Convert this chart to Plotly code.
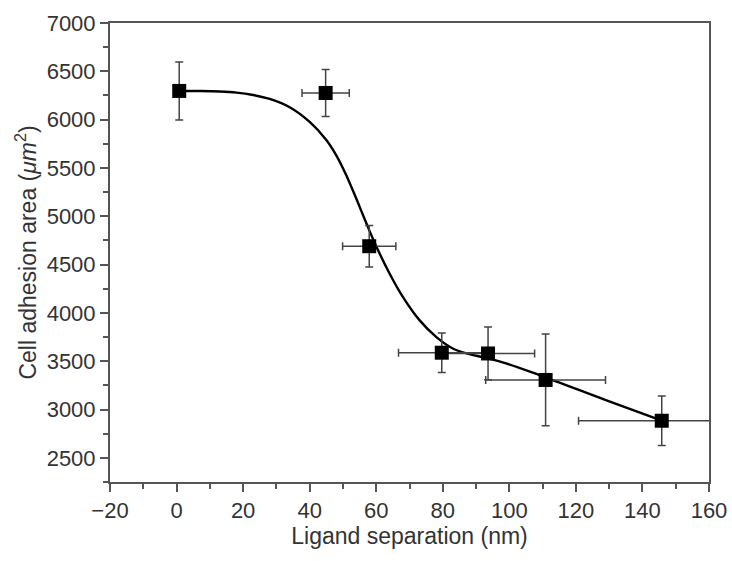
import plotly.graph_objects as go

# Measured data points
sep_nm = [0.8, 44.8, 57.9, 79.7, 93.6, 110.9, 145.8]
area_um2 = [6297, 6276, 4690, 3588, 3580, 3306, 2884]
area_err = [300, 243, 215, 205, 273, 475, 255]
sep_err = [0, 7.1, 8, 13, 14, 18, 25]

# Fitted curve
fit_x = [0.8, 7, 13, 18, 23, 28, 34, 40, 45, 48, 51, 54, 57, 60, 64, 68, 73, 78, 83, 88, 93, 99, 109, 129, 145.8]
fit_y = [6297, 6296, 6291, 6280, 6255, 6214, 6128, 5976, 5790, 5631, 5425, 5183, 4930, 4690, 4408, 4166,
         3925, 3752, 3632, 3573, 3535, 3478, 3357, 3098, 2884]

x_ticks = [-20, 0, 20, 40, 60, 80, 100, 120, 140, 160]
y_ticks = [2500, 3000, 3500, 4000, 4500, 5000, 5500, 6000, 6500, 7000]

font_family = "Liberation Sans, Arial, sans-serif"
axis_color = "#555555"
text_color = "#333333"

fig = go.Figure()

fig.add_trace(go.Scatter(
    x=fit_x, y=fit_y, mode="lines",
    line=dict(color="black", width=2.4, shape="spline", smoothing=1.0),
    hoverinfo="skip", showlegend=False,
))

fig.add_trace(go.Scatter(
    x=sep_nm, y=area_um2, mode="markers",
    marker=dict(symbol="square", size=14, color="black"),
    error_y=dict(type="data", array=area_err, visible=True, color="#444444", thickness=1.5, width=4),
    error_x=dict(type="data", array=sep_err, visible=True, color="#444444", thickness=1.5, width=4),
    showlegend=False,
))

fig.update_layout(
    width=732, height=561,
    margin=dict(l=110, r=23, t=23, b=79, autoexpand=False),
    paper_bgcolor="white", plot_bgcolor="white",
    font=dict(family=font_family, color=text_color, size=22),
    xaxis=dict(
        range=[-20, 160], tickmode="array", tickvals=x_ticks, automargin=False,
        ticks="outside", ticklen=8, tickwidth=2, tickcolor=axis_color,
        showline=True, linecolor=axis_color, linewidth=2, mirror=True,
        showgrid=False, zeroline=False,
        minor=dict(ticks="outside", ticklen=5, tickwidth=1.5, tickcolor=axis_color, dtick=10, tick0=-20),
        tickfont=dict(size=22, color=text_color),
        title=dict(text="Ligand separation (nm)", font=dict(size=23, color=text_color), standoff=2),
    ),
    yaxis=dict(
        range=[2250, 7000], tickmode="array", tickvals=y_ticks, automargin=False,
        ticks="outside", ticklen=8, tickwidth=2, tickcolor=axis_color,
        showline=True, linecolor=axis_color, linewidth=2, mirror=True,
        showgrid=False, zeroline=False,
        minor=dict(ticks="outside", ticklen=5, tickwidth=1.5, tickcolor=axis_color, dtick=250, tick0=2250),
        tickfont=dict(size=22, color=text_color),
        title=dict(text="Cell adhesion area (<i>μm</i><sup>2</sup>)", font=dict(size=23, color=text_color), standoff=4),
    ),
)

# Remove the default page margin so the figure fills the window exactly
fig.write_html(
    "out.html",
    config={"displayModeBar": False},
    post_script="document.body.style.margin='0';document.body.style.overflow='hidden';",
)
